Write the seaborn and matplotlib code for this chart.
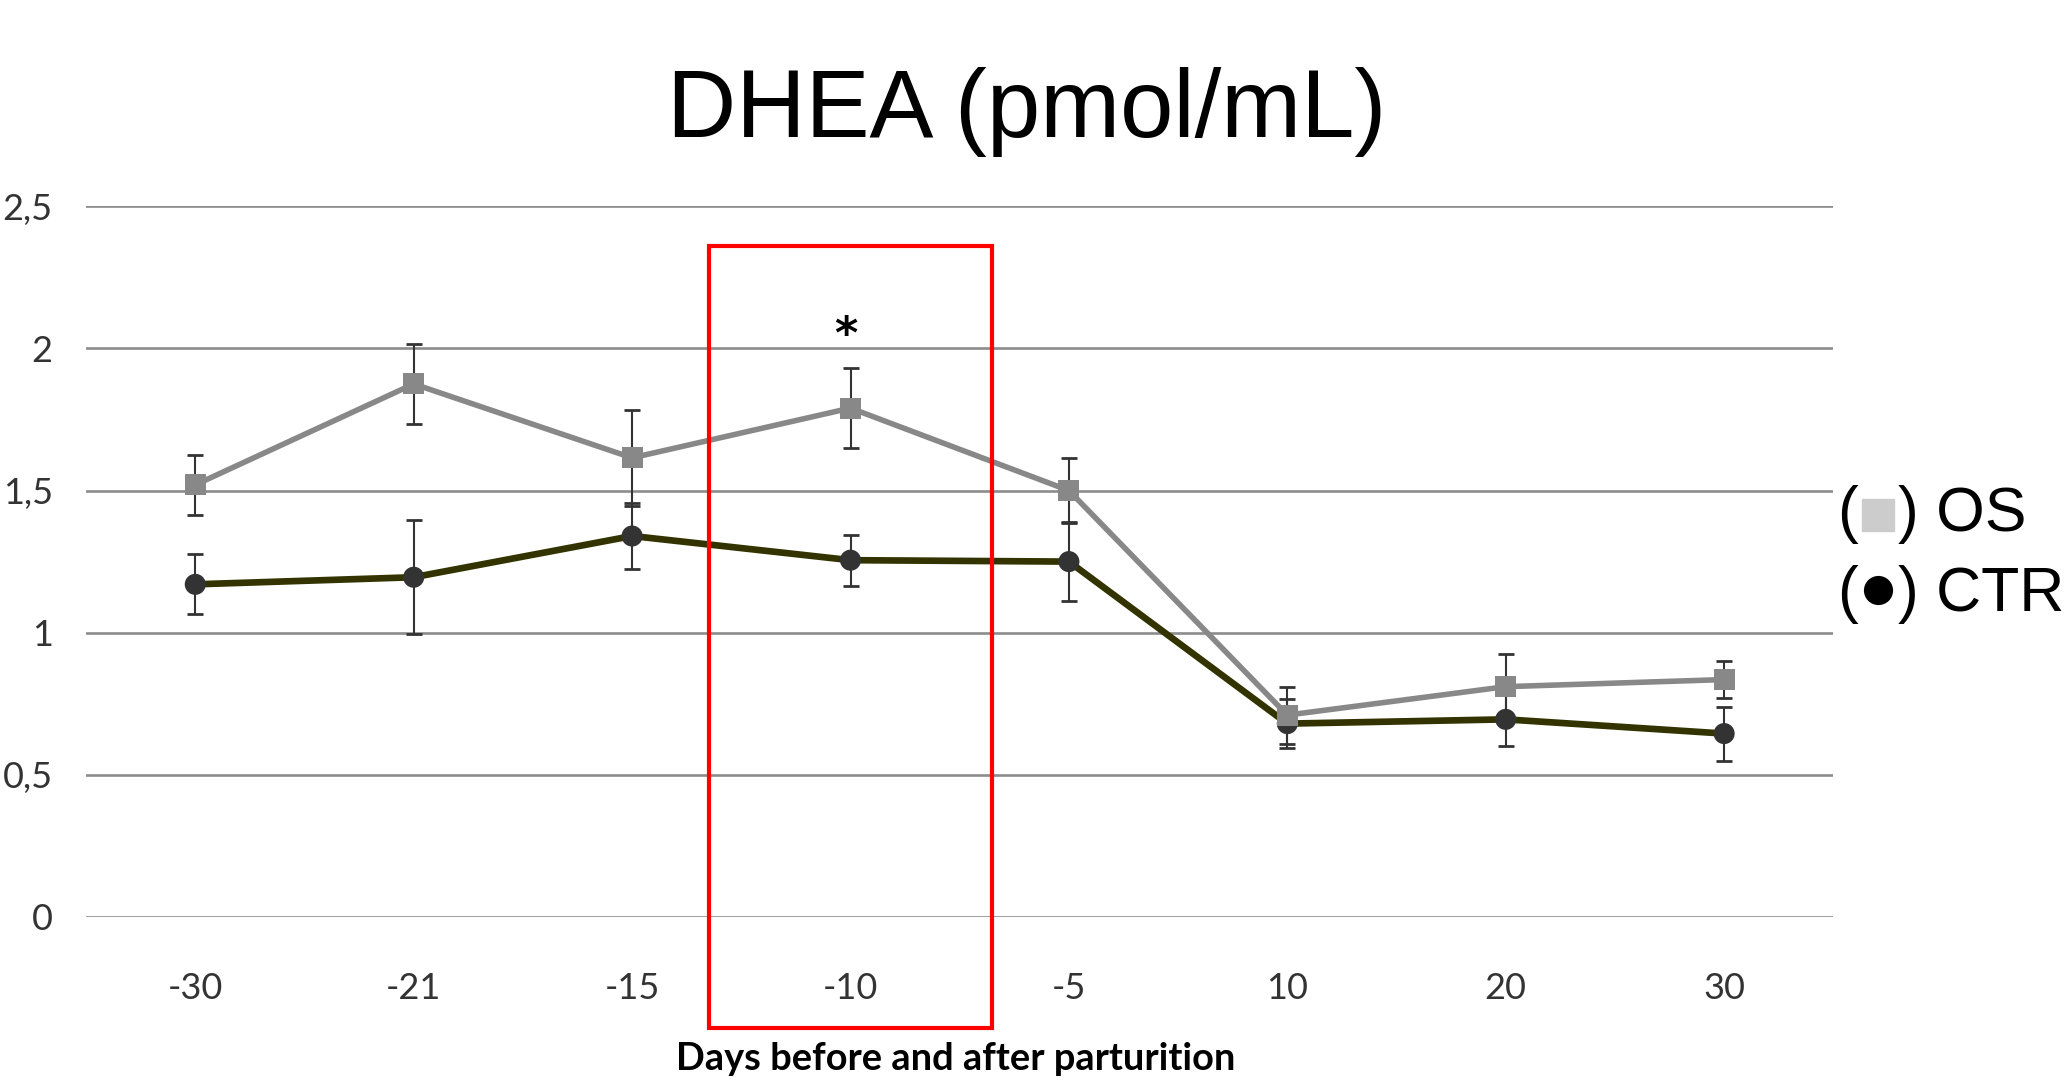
import matplotlib
matplotlib.use("Agg")
import matplotlib.pyplot as plt
from matplotlib.patches import Rectangle
from matplotlib.offsetbox import TextArea, DrawingArea, HPacker, AnchoredOffsetbox
from matplotlib.lines import Line2D
import seaborn as sns
import pandas as pd
import numpy as np

# Values
days = ["-30", "-21", "-15", "-10", "-5", "10", "20", "30"]
os_mean = [1.52, 1.875, 1.615, 1.79, 1.50, 0.71, 0.81, 0.835]
os_sem = [0.105, 0.14, 0.17, 0.14, 0.115, 0.10, 0.115, 0.065]
ctr_mean = [1.17, 1.195, 1.34, 1.255, 1.25, 0.68, 0.695, 0.645]
ctr_sem = [0.105, 0.20, 0.115, 0.09, 0.14, 0.085, 0.095, 0.095]
y_ticks = [0, 0.5, 1, 1.5, 2, 2.5]
y_tick_labels = ["0", "0,5", "1", "1,5", "2", "2,5"]
highlight_day = "-10"

df = pd.DataFrame({
    "day": days * 2,
    "dhea": os_mean + ctr_mean,
    "sem": os_sem + ctr_sem,
    "group": ["OS"] * len(days) + ["CTR"] * len(days),
})

sns.set_theme(style="white")
plt.rcParams["font.family"] = ["Lato", "DejaVu Sans"]

fig = plt.figure(figsize=(20.69, 10.8), dpi=100)
ax = fig.add_axes([0.0416, 0.151, 0.8445, 0.658])

line_colors = {"OS": "#888888", "CTR": "#333300"}
marker_colors = {"OS": "#888888", "CTR": "#333333"}
marker_shapes = {"OS": "s", "CTR": "o"}
line_widths = {"OS": 4.0, "CTR": 4.8}

# draw CTR first so the OS series sits on top
for grp in ["CTR", "OS"]:
    sub = df[df["group"] == grp]
    sns.lineplot(data=sub, x="day", y="dhea", color=line_colors[grp],
                 linewidth=line_widths[grp], sort=False, ax=ax, zorder=3)
    pos = np.arange(len(sub))
    ax.errorbar(pos, sub["dhea"], yerr=sub["sem"], fmt="none",
                ecolor="#333333", elinewidth=1.5, capsize=6, capthick=2, zorder=4)
    sns.scatterplot(data=sub, x="day", y="dhea", color=marker_colors[grp],
                    marker=marker_shapes[grp], s=230, edgecolor="none",
                    ax=ax, zorder=5)

ax.set_xlim(-0.5, len(days) - 0.5)
ax.set_ylim(0, 2.5)
ax.set_yticks(y_ticks)
ax.set_yticklabels(y_tick_labels)
ax.yaxis.grid(True, color="#8c8c8c", linewidth=1.9)
ax.xaxis.grid(False)
for s in ax.spines.values():
    s.set_visible(False)
ax.tick_params(axis="y", length=0, pad=24, labelsize=26, labelcolor="#333333")
ax.tick_params(axis="x", length=0, pad=40, labelsize=26, labelcolor="#333333")
ax.set_xlabel("")
ax.set_ylabel("")

# red box around the significant time point
hi = days.index(highlight_day)
box = Rectangle((hi - 0.65, -0.39), 1.3, 2.75, fill=False, edgecolor="#ff0000",
                linewidth=3, clip_on=False, zorder=6)
ax.add_patch(box)
ax.text(hi - 0.02, 2.0, "*", ha="center", va="baseline", fontsize=32,
        fontweight="bold", color="black", family=["DejaVu Sans"], zorder=7)

fig.text(0.496, 0.873, "DHEA (pmol/mL)", ha="center", va="baseline",
         fontsize=69, color="black", family=["Liberation Sans", "DejaVu Sans"])
fig.text(0.462, 0.009, "Days before and after parturition", ha="center",
         va="baseline", fontsize=27.4, fontweight="bold", color="black")

# legend written as "( symbol ) name"
def legend_row(symbol, color, label, y):
    props = dict(fontsize=45, family=["Liberation Sans", "DejaVu Sans"], color="black")
    left = TextArea("(", textprops=props)
    da = DrawingArea(27, 30, 0, 0)
    if symbol == "s":
        da.add_artist(Rectangle((2, 0), 23, 23, color=color))
    else:
        da.add_artist(Line2D([13.5], [15.5], marker="o", markersize=21,
                             color=color, markeredgewidth=0))
    right = TextArea(") " + label, textprops=props)
    row = HPacker(children=[left, da, right], align="baseline", pad=0, sep=1)
    box = AnchoredOffsetbox(loc="lower left", child=row, pad=0, borderpad=0,
                            frameon=False, bbox_to_anchor=(0.888, y),
                            bbox_transform=fig.transFigure)
    fig.add_artist(box)

legend_row("s", "#cccccc", "OS", 0.496)
legend_row("o", "#000000", "CTR", 0.422)

fig.savefig("out.png", dpi=100)
